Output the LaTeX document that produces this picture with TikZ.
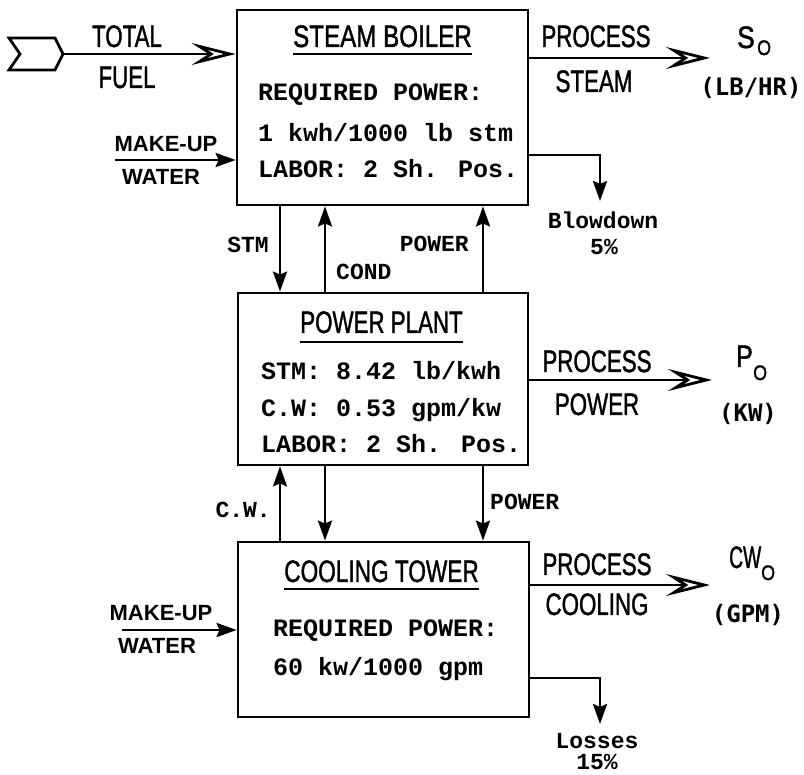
\documentclass[tikz,border=0pt]{standalone}
\usepackage{fontspec}
\usepackage{graphicx}
\usetikzlibrary{arrows.meta}
\newfontfamily\courf{Liberation Mono}
\newfontfamily\hsans{Liberation Sans}[FakeBold=1.5]
\newfontfamily\msans{Liberation Sans}
\newfontfamily\dmono{DejaVu Sans Mono}
\newcommand\cnd[2][0.72]{\scalebox{#1}[1]{\hsans\fontsize{31}{31}\selectfont #2}}
\newcommand\cnsub[1]{\scalebox{0.85}[1]{\hsans\fontsize{21}{21}\selectfont #1}}
\begin{document}
\begin{tikzpicture}[x=1pt,y=-1pt,
 box/.style={draw, line width=2.8pt, inner sep=0pt},
 txt/.style={font=\courf\bfseries\fontsize{25}{25}\selectfont, anchor=base west, inner sep=0pt},
 lbl/.style={font=\courf\bfseries\fontsize{23}{23}\selectfont, inner sep=0pt, anchor=base},
 sans/.style={inner sep=0pt, anchor=base},
 mk/.style={font=\msans\bfseries\fontsize{22}{22}\selectfont, inner sep=0pt, anchor=base},
 unit/.style={font=\dmono\bfseries\fontsize{24}{24}\selectfont, inner sep=0pt, anchor=base},
 uline/.style={line width=2.6pt},
 flow/.style={line width=2.8pt, -{Stealth[length=20pt,width=14pt,inset=3pt]}},
 bigflow/.style={line width=2.8pt, -{Stealth[open,length=44pt,width=22pt,inset=17pt]}},
]
\useasboundingbox (0,0) rectangle (804,775);

% boxes
\node[box, minimum width=291pt, minimum height=195pt] (boiler) at (382.5,107.5) {};
\node[box, minimum width=290pt, minimum height=172pt] (plant) at (383,379) {};
\node[box, minimum width=291pt, minimum height=175pt] (tower) at (383.5,629.5) {};

% headings
\node[sans] (hb) at (382.5,47) {\cnd[0.78]{STEAM BOILER}};
\node[sans] (hp) at (381.5,333) {\cnd[0.72]{POWER PLANT}};
\node[sans] (ht) at (381.5,582) {\cnd[0.73]{COOLING TOWER}};
\draw[uline] ([yshift=-7pt]hb.base west) -- ([yshift=-7pt]hb.base east);
\draw[uline] ([yshift=-9pt]hp.base west) -- ([yshift=-9pt]hp.base east);
\draw[uline] ([yshift=-7pt]ht.base west) -- ([yshift=-7pt]ht.base east);

% box texts
\node[txt] (b1) at (258,101) {REQUIRED POWER:};
\node[txt] (b2) at (258,142) {1 kwh/1000 lb stm};
\node[txt] (b3) at (258,178) {LABOR: 2 Sh. Pos.};
\node[txt] (p1) at (261,380) {STM: 8.42 lb/kwh};
\node[txt] (p2) at (261,417) {C.W: 0.53 gpm/kw};
\node[txt] (p3) at (261,453) {LABOR: 2 Sh. Pos.};
\node[txt] (t1) at (273,636) {REQUIRED POWER:};
\node[txt] (t2) at (273,675) {60 kw/1000 gpm};

% fuel input
\draw[line width=2.8pt, line join=miter] (9,38) -- (55,38) -- (63,54) -- (55,70) -- (9,70) -- (20,54) -- cycle;
\coordinate (fueltip) at (63,54);
\draw[bigflow] (fueltip) -- (boiler.west |- fueltip);
\node[sans] (total) at (127,47) {\cnd{TOTAL}};
\node[sans] (fuel) at (127,88) {\cnd{FUEL}};

% make-up water (boiler)
\coordinate (mu1) at (115,160);
\draw[flow] (mu1) -- (boiler.west |- mu1);
\node[mk] (mk1) at (166,152) {MAKE-UP};
\node[mk] (wt1) at (161,185) {WATER};

% make-up water (tower)
\coordinate (mu2) at (122,630);
\draw[flow] (mu2) -- (tower.west |- mu2);
\node[mk] (mk2) at (161,620) {MAKE-UP};
\node[mk] (wt2) at (157,653) {WATER};

% process steam
\coordinate (so) at (710,58);
\draw[bigflow] (boiler.east |- so) -- (so);
\node[sans] (ps1) at (596,47) {\cnd{PROCESS}};
\node[sans] (ps2) at (594,92) {\cnd{STEAM}};
\node[sans, anchor=base west] (sS) at (737,48) {\cnd[0.85]{S}};
\node[sans, anchor=base west] (sO) at (757,55) {\cnsub{O}};
\node[unit] (u1) at (751,96) {(LB/HR)};

% blowdown
\coordinate (bdy) at (0,155);
\coordinate (bd) at (600,201);
\draw[flow] (boiler.east |- bdy) -| (bd);
\node[lbl] (bdl) at (603,229) {Blowdown};
\node[lbl] (bdp) at (604,255) {5\%};

% boiler <-> plant
\coordinate (xa) at (280,0);
\coordinate (xb) at (325,0);
\coordinate (xc) at (483,0);
\draw[flow] (boiler.south -| xa) -- (plant.north -| xa);
\draw[flow] (plant.north -| xb) -- (boiler.south -| xb);
\draw[flow] (plant.north -| xc) -- (boiler.south -| xc);
\node[lbl, anchor=base east] (lstm) at (269,253) {STM};
\node[lbl, anchor=base west] (lcond) at (336,280) {COND};
\node[lbl, anchor=base east] (lpow1) at (469,252) {POWER};

% process power
\coordinate (po) at (712,380);
\draw[bigflow] (plant.east |- po) -- (po);
\node[sans] (pp1) at (597,372) {\cnd{PROCESS}};
\node[sans] (pp2) at (597,415) {\cnd{POWER}};
\node[sans, anchor=base west] (pP) at (736,367) {\cnd[0.8]{P}};
\node[sans, anchor=base west] (pO) at (753,380) {\cnsub{O}};
\node[unit] (u2) at (748,422) {(KW)};

% plant <-> tower
\draw[flow] (tower.north -| xa) -- (plant.south -| xa);
\draw[flow] (plant.south -| xb) -- (tower.north -| xb);
\draw[flow] (plant.south -| xc) -- (tower.north -| xc);
\node[lbl, anchor=base east] (lcw) at (271,518) {C.W.};
\node[lbl, anchor=base west] (lpow2) at (490,510) {POWER};

% process cooling
\coordinate (co) at (710,585);
\draw[bigflow] (tower.east |- co) -- (co);
\node[sans] (pc1) at (597,575) {\cnd{PROCESS}};
\node[sans] (pc2) at (597,615) {\cnd{COOLING}};
\node[sans, anchor=base west] (cCW) at (729,568) {\cnd[0.62]{CW}};
\node[sans, anchor=base west] (cO) at (761,580) {\cnsub{O}};
\node[unit] (u3) at (748,623) {(GPM)};

% losses
\coordinate (lsy) at (0,678);
\coordinate (ls) at (600,724);
\draw[flow] (tower.east |- lsy) -| (ls);
\node[lbl] (lsl) at (597,748) {Losses};
\node[lbl] (lsp) at (597,769) {15\%};
\end{tikzpicture}
\end{document}
